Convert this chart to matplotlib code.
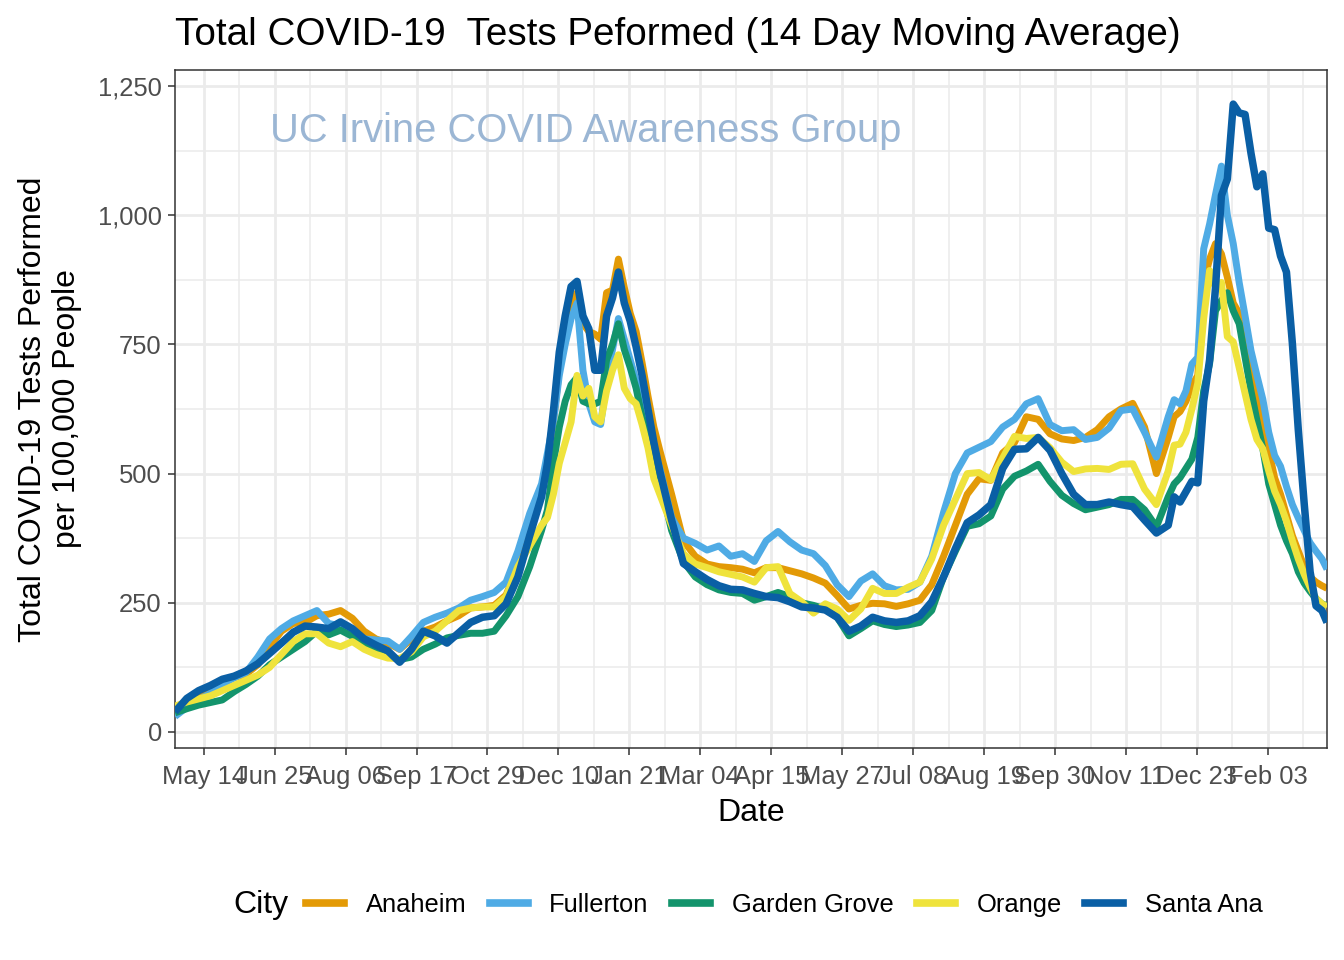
import matplotlib
matplotlib.use("Agg")
import matplotlib.pyplot as plt
import matplotlib.dates as mdates
from matplotlib.lines import Line2D
from matplotlib.ticker import FuncFormatter
import pandas as pd

plt.rcParams['font.family'] = ['Liberation Sans', 'DejaVu Sans']

# ---------------- data ----------------
dates = (list(pd.date_range('2020-04-27', periods=32, freq='7D'))
         + list(pd.date_range('2020-12-03 12:00', periods=20, freq='84h'))
         + list(pd.date_range('2021-02-15', periods=43, freq='7D'))
         + list(pd.date_range('2021-12-09 12:00', periods=26, freq='84h'))
         + [pd.Timestamp('2022-03-10')])

cities = ["Anaheim", "Fullerton", "Garden Grove", "Orange", "Santa Ana"]

anaheim = [35, 55, 68, 80, 95, 105, 112, 130, 165, 195, 210, 212, 225, 228, 235, 220,
           195, 180, 172, 160, 180, 195, 203, 215, 225, 240, 242, 245, 265, 320, 400, 460,
           520, 600, 700, 770, 830, 850, 790, 775, 770, 760, 850, 855, 915, 860, 810, 775,
           715, 650, 590, 545,
           460, 370, 340, 325, 320, 318, 315, 308, 318, 318, 312, 306, 298, 288, 264, 238,
           245, 249, 248, 243, 248, 255, 285, 340, 400, 460, 490, 487, 540, 560, 610, 605,
           577, 567, 564, 570, 585, 610, 625, 636, 590, 500, 570,
           610, 620, 640, 670, 690, 870, 915, 945, 925, 880, 830, 810, 765, 700, 655, 600,
           545, 492, 460, 420, 380, 350, 320, 300, 290, 283,
           278]

fullerton = [30, 48, 62, 75, 92, 105, 115, 145, 180, 200, 215, 225, 235, 210, 205, 195,
             180, 178, 176, 160, 185, 212, 222, 230, 240, 255, 262, 270, 290, 350, 423, 480,
             540, 600, 690, 750, 800, 830, 700, 635, 600, 595, 680, 740, 800, 760, 720, 680,
             630, 590, 545, 510,
             415, 375, 365, 352, 360, 340, 345, 330, 370, 388, 368, 352, 345, 322, 285, 262,
             292, 306, 283, 275, 276, 290, 340, 425, 500, 540, 551, 562, 590, 605, 635, 645,
             595, 583, 585, 566, 570, 588, 622, 625, 580, 532, 610,
             643, 635, 660, 712, 725, 935, 983, 1040, 1095, 1000, 945, 870, 805, 738, 690, 644,
             580, 535, 514, 475, 440, 414, 390, 366, 350, 335,
             315]

garden_grove = [37, 45, 52, 57, 62, 78, 92, 108, 130, 145, 160, 175, 195, 188, 197, 185,
                170, 155, 148, 140, 145, 160, 170, 182, 187, 191, 191, 195, 225, 262, 320, 390,
                430, 520, 590, 640, 672, 686, 640, 635, 635, 640, 720, 750, 790, 740, 705, 665,
                610, 575, 535, 485,
                390, 330, 300, 285, 275, 270, 268, 255, 262, 270, 262, 250, 245, 238, 222, 186,
                200, 215, 208, 204, 207, 212, 235, 300, 350, 398, 403, 418, 470, 495, 505, 518,
                485, 458, 442, 430, 435, 440, 450, 450, 430, 397, 455,
                480, 492, 510, 528, 570, 660, 713, 815, 835, 850, 815, 790, 725, 660, 603, 548,
                480, 440, 400, 370, 345, 310, 288, 272, 258, 248,
                244]

orange = [50, 58, 64, 70, 80, 90, 100, 110, 125, 150, 175, 190, 190, 172, 165, 175,
          160, 150, 143, 142, 155, 184, 195, 215, 235, 240, 242, 242, 262, 320, 360, 400,
          415, 460, 520, 560, 600, 690, 650, 665, 610, 600, 660, 700, 730, 665, 645, 635,
          595, 550, 490, 460,
          400, 345, 325, 318, 310, 305, 300, 290, 318, 320, 268, 252, 230, 248, 238, 216,
          238, 278, 268, 268, 280, 290, 335, 400, 450, 500, 502, 488, 530, 572, 568, 570,
          550, 522, 504, 509, 510, 508, 518, 519, 470, 440, 505,
          555, 557, 580, 625, 675, 800, 893, 860, 870, 765, 755, 705, 655, 605, 566, 548,
          505, 466, 440, 408, 370, 335, 305, 280, 258, 248,
          242]

santa_ana = [39, 65, 80, 90, 102, 108, 118, 132, 152, 172, 193, 205, 203, 200, 213, 200,
             180, 168, 157, 135, 160, 195, 186, 172, 192, 212, 222, 225, 248, 300, 380, 455,
             520, 620, 735, 805, 862, 872, 805, 780, 700, 700, 805, 840, 890, 830, 795, 745,
             690, 625, 560, 505,
             410, 326, 310, 295, 283, 276, 275, 268, 262, 260, 252, 242, 240, 236, 222, 195,
             205, 222, 215, 212, 215, 225, 252, 300, 355, 405, 420, 440, 510, 547, 548, 570,
             545, 500, 460, 440, 440, 445, 440, 436, 410, 385, 400,
             455, 445, 465, 485, 482, 640, 720, 860, 1038, 1070, 1215, 1198, 1195, 1120, 1055, 1080,
             975, 972, 921, 890, 752, 585, 442, 310, 244, 235,
             212]

series = [anaheim, fullerton, garden_grove, orange, santa_ana]
colors = ["#E39A06", "#4FABE5", "#13946C", "#EFE33C", "#0A5FA5"]

x_ticks = pd.date_range('2020-05-14', '2022-02-03', freq='42D')
x_minor = pd.date_range('2020-06-04', '2022-02-24', freq='42D')
y_ticks = [0, 250, 500, 750, 1000, 1250]
y_minor = [125, 375, 625, 875, 1125]

# ---------------- figure ----------------
W, H = 1344, 960
fig = plt.figure(figsize=(W / 100, H / 100), dpi=100)
L, R, T, B = 175, 1327, 70, 748
ax = fig.add_axes([L / W, 1 - B / H, (R - L) / W, (B - T) / H])

grid_c = "#EBEBEB"
for d in x_minor:
    ax.axvline(d, color=grid_c, lw=1.1, zorder=0)
for v in y_minor:
    ax.axhline(v, color=grid_c, lw=1.1, zorder=0)
for d in x_ticks:
    ax.axvline(d, color=grid_c, lw=2.0, zorder=0)
for v in y_ticks:
    ax.axhline(v, color=grid_c, lw=2.0, zorder=0)

for i, (name, vals, c) in enumerate(zip(cities, series, colors)):
    ax.plot(dates, vals, color=c, lw=5.0 if name != "Santa Ana" else 5.4,
            solid_joinstyle='round', solid_capstyle='butt', zorder=2 + i, label=name)

ax.set_xlim(pd.Timestamp('2020-04-27'), pd.Timestamp('2022-03-10'))
ax.set_ylim(-31, 1281)
ax.set_xticks(x_ticks)
ax.xaxis.set_major_formatter(mdates.DateFormatter('%b %d'))
ax.set_yticks(y_ticks)
ax.yaxis.set_major_formatter(FuncFormatter(lambda v, p: f"{int(v):,}"))

for s in ax.spines.values():
    s.set_color("#333333")
    s.set_linewidth(1.1)
ax.tick_params(axis='both', colors="#333333", width=1.1, length=5,
               labelsize=18.4, labelcolor="#4D4D4D")
ax.tick_params(axis='x', pad=7.5)
ax.tick_params(axis='y', pad=4.5)

ax.text(pd.Timestamp('2020-12-26'), 1163, "UC Irvine COVID Awareness Group",
        color="#9BB6D4", fontsize=28.7, ha='center', va='center', zorder=10)

fig.text(L / W, 1 - 35 / H, "Total COVID-19  Tests Peformed (14 Day Moving Average)",
         fontsize=27.8, ha='left', va='center')
fig.text(((L + R) / 2) / W, 1 - 813 / H, "Date", fontsize=23, ha='center', va='center')
fig.text(50 / W, 1 - 409 / H, "Total COVID-19 Tests Performed\nper 100,000 People",
         fontsize=23, ha='center', va='center', rotation=90, linespacing=1.15)

# legend
fig.text(233 / W, 1 - 905 / H, "City", fontsize=23, ha='left', va='center')
handles = [Line2D([0], [0], color=c, lw=5.5) for c in colors]
fig.legend(handles, cities, loc='center left', bbox_to_anchor=(306 / W, 1 - 905 / H),
           ncol=5, frameon=False, fontsize=18.4, handlelength=1.48, handletextpad=0.85,
           columnspacing=0.92, borderpad=0, borderaxespad=0)

fig.savefig("out.png", dpi=100)
